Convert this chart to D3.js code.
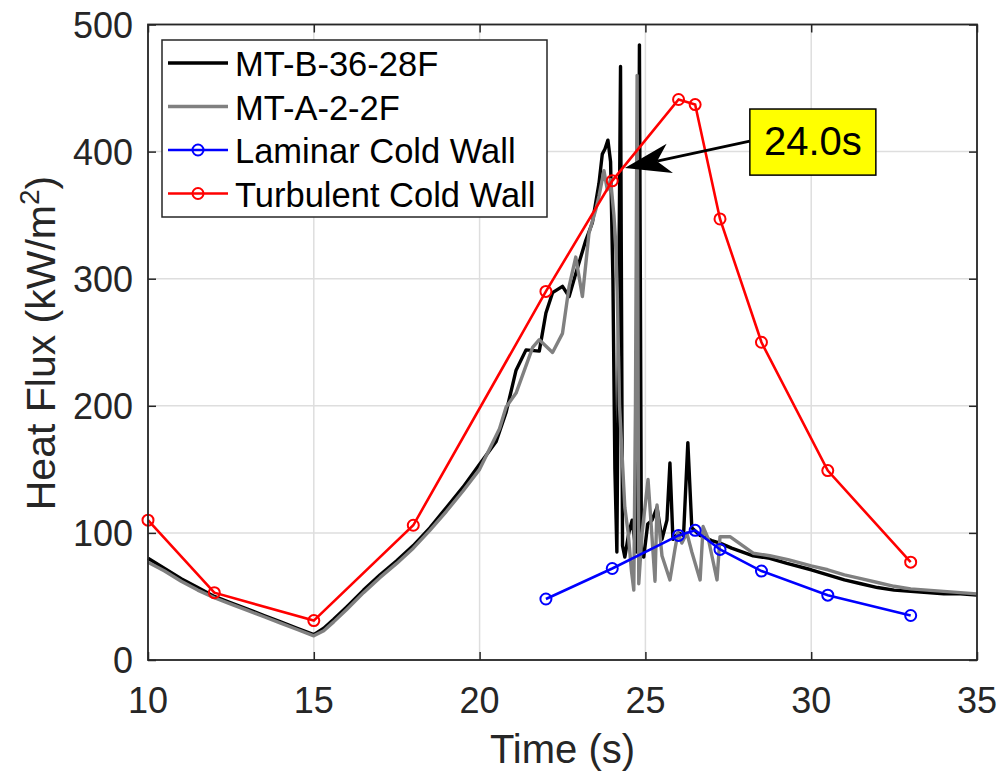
<!DOCTYPE html>
<html>
<head>
<meta charset="utf-8">
<script src="https://cdn.jsdelivr.net/npm/d3@7"></script>
<style>
  body { margin: 0; background: #fff; }
  text { font-family: "Liberation Sans", Arial, Helvetica, sans-serif; fill: #262626; }
</style>
</head>
<body>
<svg id="canvas" width="1003" height="776"></svg>
<script>
// measured curves (time in s, heat flux in kW/m2)
const blackT = [10, 10.5, 11, 11.5, 12, 12.5, 13, 13.5, 14, 14.5, 15, 15.3, 15.6, 16, 16.5, 17, 17.5, 18, 18.5, 19, 19.5, 20, 20.5, 20.8, 21.1, 21.4, 21.8, 22.0, 22.2, 22.5, 22.7, 22.9, 23.2, 23.4, 23.6, 23.7, 23.78, 23.87, 23.95, 24.02, 24.08, 24.14, 24.2, 24.25, 24.31, 24.38, 24.5, 24.6, 24.72, 24.78, 24.82, 24.88, 24.95, 25.07, 25.2, 25.35, 25.5, 25.65, 25.74, 25.83, 26.0, 26.15, 26.28, 26.4, 26.65, 27.0, 27.25, 27.6, 28.25, 28.75, 29.27, 30, 30.5, 31, 31.5, 32, 32.5, 33, 33.5, 34, 34.5, 35];
const blackV = [80, 72, 64, 57, 50, 45, 40, 35, 30, 25, 20, 25, 32, 42, 55, 67, 78, 90, 104, 120, 136, 154, 172, 195, 228, 244, 243, 273, 289, 294, 286, 304, 330, 344, 375, 398, 402, 409, 392, 300, 150, 85, 300, 467, 90, 81, 100, 110, 85, 250, 484, 82, 81, 107, 110, 120, 95, 110, 155, 95, 100, 98, 171, 104, 98, 94, 92, 88, 82, 80, 76, 71, 67, 63, 60, 57, 55, 54, 53, 52, 52, 51];

const grayT = [10, 10.5, 11, 11.5, 12, 12.5, 13, 13.5, 14, 14.5, 15, 15.3, 15.6, 16, 16.5, 17, 17.5, 18, 18.5, 19, 19.5, 20, 20.6, 20.8, 21.1, 21.6, 21.8, 22.2, 22.5, 22.7, 22.9, 23.1, 23.3, 23.5, 23.6, 23.75, 23.85, 23.95, 24.05, 24.1, 24.15, 24.22, 24.3, 24.38, 24.48, 24.58, 24.65, 24.7, 24.75, 24.8, 24.9, 25.08, 25.29, 25.35, 25.5, 25.74, 25.89, 25.98, 26.1, 26.25, 26.4, 26.65, 26.74, 26.9, 27.16, 27.25, 27.55, 28.25, 28.75, 29.3, 30, 30.5, 31, 31.5, 32, 32.5, 33, 33.5, 34, 34.5, 35];
const grayV = [77, 70, 62, 55, 49, 44, 39, 34, 29, 24, 19, 23, 30, 40, 53, 65, 76, 88, 102, 117, 133, 150, 182, 199, 210, 246, 252, 242, 257, 294, 317, 286, 336, 354, 365, 385, 370, 378, 350, 330, 290, 200, 160, 120, 100, 70, 55, 200, 460, 60, 100, 142, 62, 122, 82, 63, 87, 100, 92, 100, 85, 63, 105, 95, 63, 97, 97, 84, 82, 79, 74, 71, 67, 64, 61, 58, 56, 55, 54, 53, 52, 51];

// cold wall models
const turbT = [10, 12, 15, 18, 22, 24, 26, 26.5, 27.25, 28.5, 30.5, 33];
const turbV = [110, 53, 31, 106, 290, 377, 441, 437, 347, 250, 149, 77];
const lamT = [22, 24, 26, 26.5, 27.25, 28.5, 30.5, 33];
const lamV = [48, 72, 98, 102, 87, 70, 51, 35];

const xTicks = [10, 15, 20, 25, 30, 35];
const yTicks = [0, 100, 200, 300, 400, 500];

const legendNames = ["MT-B-36-28F", "MT-A-2-2F", "Laminar Cold Wall", "Turbulent Cold Wall"];
const legendColors = ["#000000", "#808080", "#0000ff", "#ff0000"];
const legendMarkers = [false, false, true, true];

// annotation: label and arrow tip in data units
const noteText = "24.0s";
const noteTip = [24.38, 387];
const noteBox = [28.15, 433.5, 31.95, 381.5]; // t0, v0, t1, v1

let canvas = d3.select("#canvas")

const x = d3.scaleLinear().domain([10, 35]).range([148, 977])
const y = d3.scaleLinear().domain([0, 500]).range([660, 24.5])

// grid
canvas.append("g")
      .selectAll("line.gx")
      .data(xTicks)
      .enter()
      .append("line")
      .attr("x1", d => x(d)).attr("x2", d => x(d))
      .attr("y1", y(0)).attr("y2", y(500))
      .attr("stroke", "#dedede").attr("stroke-width", 1.5)
canvas.append("g")
      .selectAll("line.gy")
      .data(yTicks)
      .enter()
      .append("line")
      .attr("y1", d => y(d)).attr("y2", d => y(d))
      .attr("x1", x(10)).attr("x2", x(35))
      .attr("stroke", "#dedede").attr("stroke-width", 1.5)

// curves
const zip = (ts, vs) => ts.map((t, i) => [t, vs[i]])
const line = d3.line().x(d => x(d[0])).y(d => y(d[1]))

const plot = canvas.append("g")

plot.append("path")
    .attr("d", line(zip(blackT, blackV)))
    .attr("fill", "none").attr("stroke", "#000").attr("stroke-width", 3.4)
    .attr("stroke-linejoin", "round")
plot.append("path")
    .attr("d", line(zip(grayT, grayV)))
    .attr("fill", "none").attr("stroke", "#808080").attr("stroke-width", 3.4)
    .attr("stroke-linejoin", "round")

function drawModel(ts, vs, color) {
  let pts = zip(ts, vs)
  plot.append("path")
      .attr("d", line(pts))
      .attr("fill", "none").attr("stroke", color).attr("stroke-width", 2.6)
  plot.selectAll(null)
      .data(pts)
      .enter()
      .append("circle")
      .attr("cx", d => x(d[0]))
      .attr("cy", d => y(d[1]))
      .attr("r", 5.5)
      .attr("fill", "none")
      .attr("stroke", color)
      .attr("stroke-width", 2)
}
drawModel(lamT, lamV, "#0000ff")
drawModel(turbT, turbV, "#ff0000")

// axes box
const axisColor = "#262626"
canvas.append("rect")
      .attr("x", x(10)).attr("y", y(500))
      .attr("width", x(35) - x(10)).attr("height", y(0) - y(500))
      .attr("fill", "none").attr("stroke", axisColor).attr("stroke-width", 1.8)

const xAxisB = d3.axisBottom(x).tickValues(xTicks).tickSize(-8).tickFormat("")
const xAxisT = d3.axisTop(x).tickValues(xTicks).tickSize(-8).tickFormat("")
const yAxisL = d3.axisLeft(y).tickValues(yTicks).tickSize(-8).tickFormat("")
const yAxisR = d3.axisRight(y).tickValues(yTicks).tickSize(-8).tickFormat("")
for (const [ax, tr] of [[xAxisB, `translate(0,${y(0)})`], [xAxisT, `translate(0,${y(500)})`],
                        [yAxisL, `translate(${x(10)},0)`], [yAxisR, `translate(${x(35)},0)`]]) {
  let g = canvas.append("g").attr("transform", tr).call(ax)
  g.select(".domain").remove()
  g.selectAll("line").attr("stroke", axisColor).attr("stroke-width", 1.5)
}

// tick labels
canvas.selectAll("text.xt")
      .data(xTicks)
      .enter()
      .append("text")
      .attr("x", d => x(d))
      .attr("y", 713)
      .attr("text-anchor", "middle")
      .style("font-size", "36px")
      .text(d => d)
canvas.selectAll("text.yt")
      .data(yTicks)
      .enter()
      .append("text")
      .attr("x", 133)
      .attr("y", d => y(d) + 13)
      .attr("text-anchor", "end")
      .style("font-size", "36px")
      .text(d => d)

// axis labels
canvas.append("text")
      .attr("x", (x(10) + x(35)) / 2)
      .attr("y", 763)
      .attr("text-anchor", "middle")
      .style("font-size", "40px")
      .text("Time (s)")

let ylab = canvas.append("text")
      .attr("transform", "translate(55,343) rotate(-90)")
      .attr("text-anchor", "middle")
      .style("font-size", "41px")
ylab.append("tspan").text("Heat Flux (kW/m")
ylab.append("tspan").attr("dy", -16).style("font-size", "28px").text("2")
ylab.append("tspan").attr("dy", 16).text(")")

// legend
const legend = canvas.append("g")
legend.append("rect")
      .attr("x", 162).attr("y", 40).attr("width", 385).attr("height", 177)
      .attr("fill", "#fff").attr("stroke", axisColor).attr("stroke-width", 1.5)

const lg = legend.selectAll("g.item")
                 .data(legendNames)
                 .enter()
                 .append("g")
                 .attr("transform", (d, i) => `translate(0,${63 + i * 43.5})`)
lg.append("line")
  .attr("x1", 168).attr("x2", 228)
  .attr("stroke", (d, i) => legendColors[i])
  .attr("stroke-width", (d, i) => legendMarkers[i] ? 2.6 : 3.4)
lg.filter((d, i) => legendMarkers[i])
  .append("circle")
  .attr("cx", 198).attr("r", 5.5)
  .attr("fill", "none")
  .attr("stroke", (d, i) => d === legendNames[2] ? legendColors[2] : legendColors[3])
  .attr("stroke-width", 2)
lg.append("text")
  .attr("x", 235).attr("y", 13)
  .style("font-size", "34.5px")
  .style("fill", "#000")
  .text(d => d)

// annotation
const bx0 = x(noteBox[0]), by0 = y(noteBox[1]), bx1 = x(noteBox[2]), by1 = y(noteBox[3])
const tipX = x(noteTip[0]), tipY = y(noteTip[1])
const startX = bx0, startY = (by0 + by1) / 2 - 1
const ang = Math.atan2(tipY - startY, tipX - startX)
const headLen = 46, headW = 15, notch = 33
const ux = Math.cos(ang), uy = Math.sin(ang)
const bxp = tipX - ux * headLen, byp = tipY - uy * headLen
const nxp = tipX - ux * notch, nyp = tipY - uy * notch
canvas.append("line")
      .attr("x1", startX).attr("y1", startY)
      .attr("x2", nxp).attr("y2", nyp)
      .attr("stroke", "#000").attr("stroke-width", 2.8)
canvas.append("path")
      .attr("d", `M${tipX},${tipY} L${bxp - uy * headW},${byp + ux * headW} L${nxp},${nyp} L${bxp + uy * headW},${byp - ux * headW} Z`)
      .attr("fill", "#000")
canvas.append("rect")
      .attr("x", bx0).attr("y", by0).attr("width", bx1 - bx0).attr("height", by1 - by0)
      .attr("fill", "#ffff00").attr("stroke", "#000").attr("stroke-width", 1.5)
canvas.append("text")
      .attr("x", (bx0 + bx1) / 2).attr("y", by1 - 20)
      .attr("text-anchor", "middle")
      .style("font-size", "40px")
      .style("fill", "#000")
      .text(noteText)
</script>
</body>
</html>
